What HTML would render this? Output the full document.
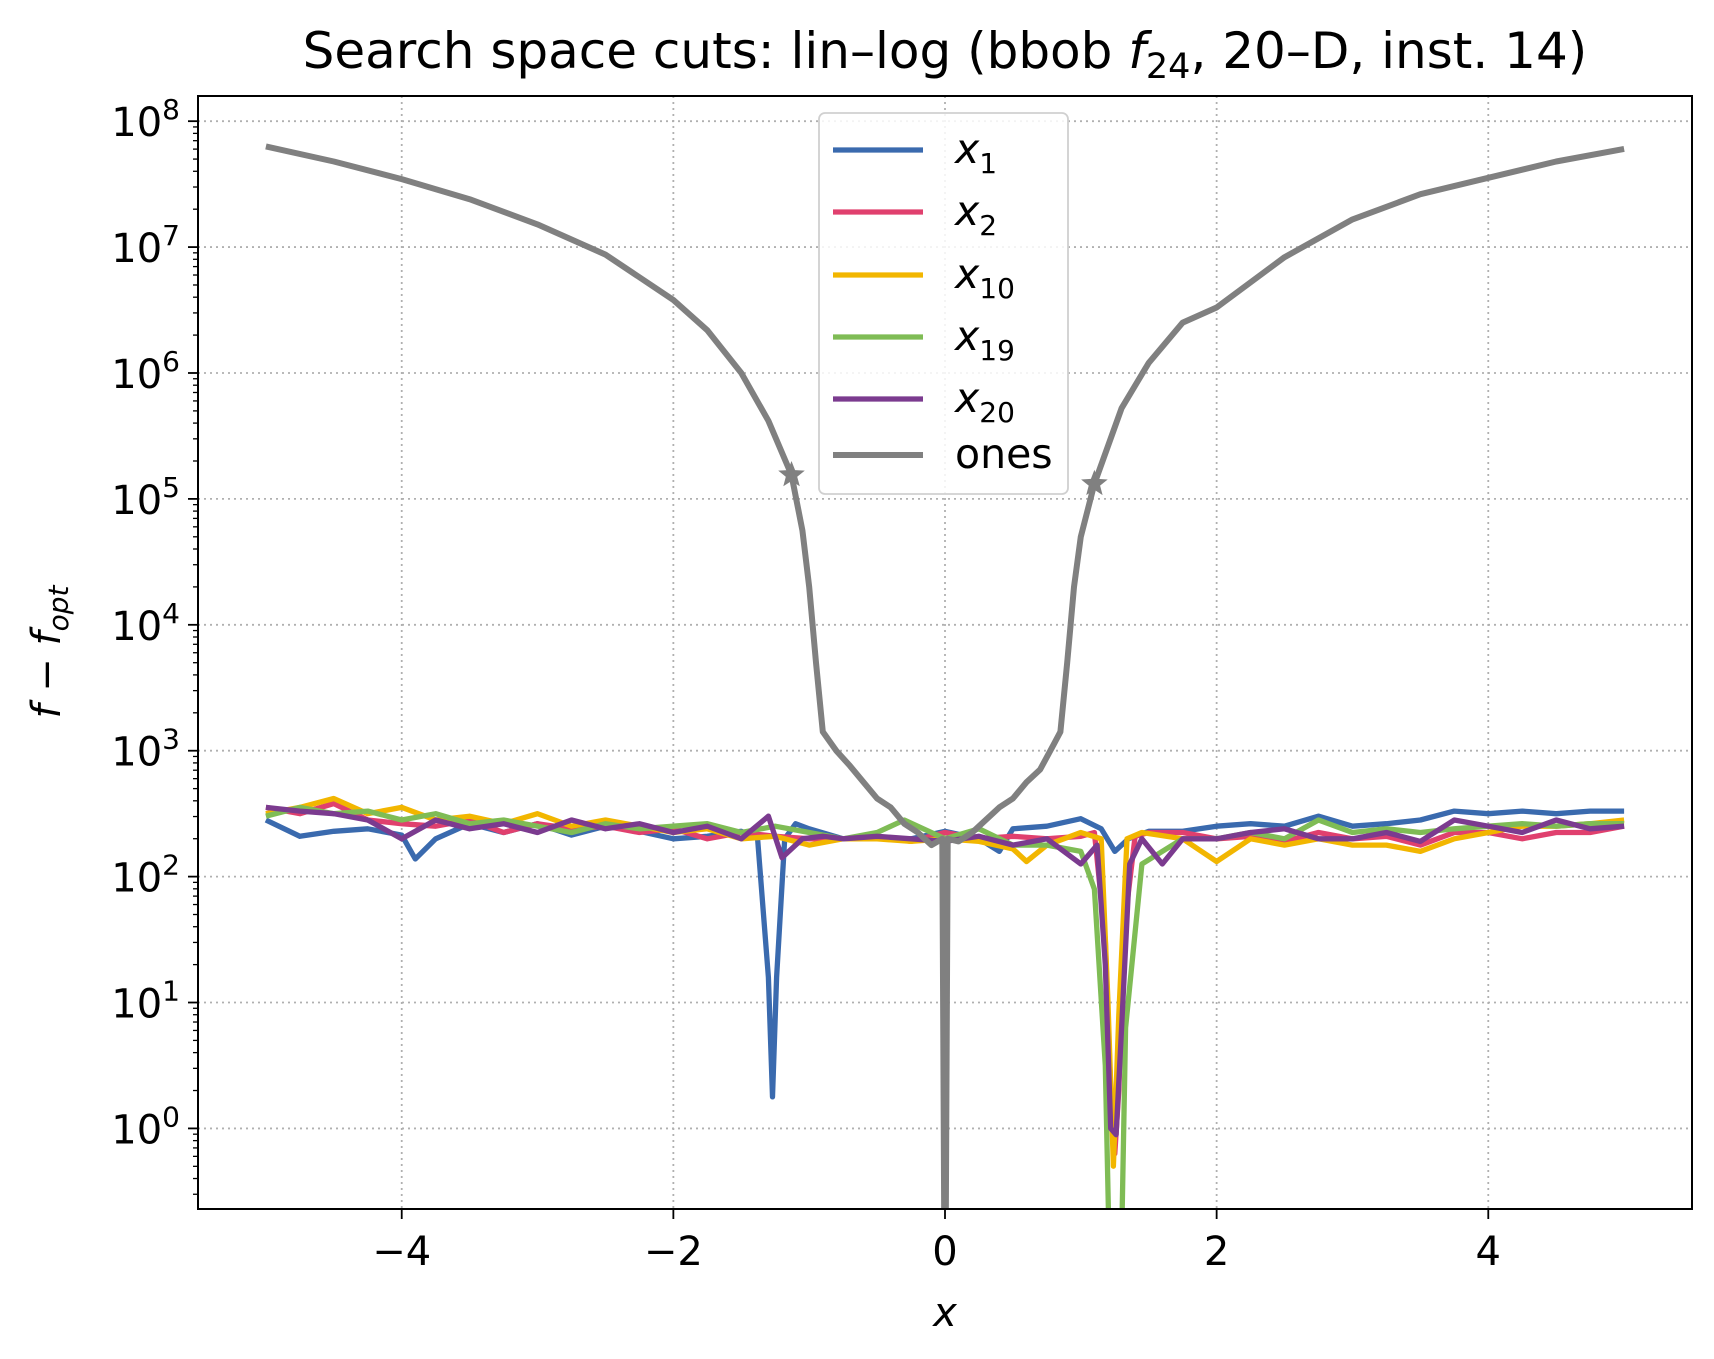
<!DOCTYPE html>
<html><head><meta charset="utf-8">
<style>
html,body{margin:0;padding:0;background:#fff;}
svg{display:block;font-family:"DejaVu Sans","Liberation Sans",sans-serif;}
</style></head>
<body>
<svg id="chart" width="1714" height="1359" viewBox="0 0 1714 1359">
<rect x="0" y="0" width="1714" height="1359" fill="#fff"/>
<defs><clipPath id="plotclip"><rect x="198" y="96" width="1494" height="1113"/></clipPath></defs>
<g id="grid"></g>
<g id="series" clip-path="url(#plotclip)"></g>
<rect x="198" y="96" width="1494" height="1113" fill="none" stroke="#000" stroke-width="2"/>
<g id="axes"></g>
<text x="945" y="68" font-size="50" text-anchor="middle">Search space cuts: lin–log (bbob <tspan font-style="italic">f</tspan><tspan font-size="35" dy="10">24</tspan><tspan dy="-10">, 20–D, inst. 14)</tspan></text>
<text x="945" y="1326" font-size="40" font-style="italic" text-anchor="middle">x</text>
<text transform="translate(60,652) rotate(-90)" font-size="40" text-anchor="middle"><tspan font-style="italic">f</tspan> − <tspan font-style="italic">f</tspan><tspan font-size="28" dy="8" font-style="italic">opt</tspan></text>
<g id="legend"></g>
</svg>
<script>
const NS="http://www.w3.org/2000/svg";
const xTicks=[-4,-2,0,2,4];
const yTicks=[0,1,2,3,4,5,6,7,8];
const seriesNames=["x1","x2","x10","x19","x20","ones"];
const seriesColors=["#3a6aae","#e0406e","#f2b600","#7fbc55","#7b3b8f","#808080"];
const x1X=[-5,-4.75,-4.5,-4.25,-4,-3.9,-3.75,-3.5,-3.25,-3,-2.75,-2.5,-2.25,-2,-1.75,-1.5,-1.38,-1.3,-1.27,-1.24,-1.18,-1.1,-1,-0.75,-0.5,-0.25,0,0.25,0.4,0.5,0.75,1,1.15,1.25,1.35,1.5,1.75,2,2.25,2.5,2.75,3,3.25,3.5,3.75,4,4.25,4.5,4.75,5];
const x1Y=[2.45,2.32,2.36,2.38,2.33,2.14,2.3,2.42,2.35,2.42,2.33,2.4,2.36,2.3,2.32,2.36,2.3,1.2,0.25,1.2,2.3,2.42,2.38,2.3,2.3,2.3,2.36,2.3,2.2,2.38,2.4,2.46,2.38,2.2,2.3,2.36,2.36,2.4,2.42,2.4,2.48,2.4,2.42,2.45,2.52,2.5,2.52,2.5,2.52,2.52];
const x2X=[-5,-4.75,-4.5,-4.25,-4,-3.75,-3.5,-3.25,-3,-2.75,-2.5,-2.25,-2,-1.75,-1.5,-1.25,-1,-0.75,-0.5,-0.25,0,0.25,0.5,0.75,1,1.1,1.18,1.22,1.25,1.28,1.32,1.4,1.5,1.75,2,2.25,2.5,2.75,3,3.25,3.5,3.75,4,4.25,4.5,4.75,5];
const x2Y=[2.55,2.5,2.58,2.45,2.42,2.4,2.45,2.35,2.42,2.38,2.4,2.35,2.38,2.3,2.35,2.32,2.3,2.3,2.32,2.28,2.35,2.3,2.32,2.3,2.32,2.35,1.5,0.3,-0.2,0.3,1.6,2.32,2.35,2.35,2.3,2.32,2.28,2.35,2.3,2.32,2.25,2.35,2.35,2.3,2.35,2.35,2.4];
const x10X=[-5,-4.75,-4.5,-4.25,-4,-3.75,-3.5,-3.25,-3,-2.75,-2.5,-2.25,-2,-1.75,-1.5,-1.25,-1,-0.75,-0.5,-0.25,0,0.25,0.5,0.6,0.75,1,1.15,1.2,1.24,1.28,1.34,1.45,1.75,2,2.25,2.5,2.75,3,3.25,3.5,3.75,4,4.25,4.5,4.75,5];
const x10Y=[2.5,2.55,2.62,2.5,2.55,2.45,2.48,2.42,2.5,2.4,2.45,2.4,2.35,2.38,2.3,2.32,2.25,2.3,2.3,2.28,2.3,2.28,2.22,2.12,2.25,2.35,2.3,1.0,-0.3,0.9,2.3,2.35,2.3,2.12,2.3,2.25,2.3,2.25,2.25,2.2,2.3,2.35,2.4,2.4,2.42,2.45];
const x19X=[-5,-4.75,-4.5,-4.25,-4,-3.75,-3.5,-3.25,-3,-2.75,-2.5,-2.25,-2,-1.75,-1.5,-1.25,-1,-0.75,-0.5,-0.3,0,0.25,0.5,0.75,1,1.1,1.18,1.22,1.25,1.29,1.33,1.45,1.75,2,2.25,2.5,2.75,3,3.25,3.5,3.75,4,4.25,4.5,4.75,5];
const x19Y=[2.48,2.55,2.5,2.52,2.45,2.5,2.42,2.45,2.4,2.35,2.42,2.38,2.4,2.42,2.35,2.4,2.35,2.3,2.35,2.45,2.3,2.38,2.25,2.25,2.2,1.9,0.5,-1.5,-1.5,-1.5,0.8,2.1,2.3,2.3,2.35,2.3,2.45,2.35,2.38,2.35,2.38,2.4,2.42,2.4,2.42,2.42];
const x20X=[-5,-4.75,-4.5,-4.25,-4,-3.75,-3.5,-3.25,-3,-2.75,-2.5,-2.25,-2,-1.75,-1.5,-1.3,-1.2,-1.05,-0.9,-0.75,-0.5,-0.25,0,0.25,0.5,0.75,1,1.12,1.18,1.22,1.26,1.3,1.36,1.45,1.6,1.75,2,2.25,2.5,2.75,3,3.25,3.5,3.75,4,4.25,4.5,4.75,5];
const x20Y=[2.55,2.52,2.5,2.45,2.3,2.45,2.38,2.42,2.35,2.45,2.38,2.42,2.35,2.4,2.3,2.48,2.15,2.3,2.32,2.3,2.32,2.3,2.28,2.32,2.25,2.3,2.1,2.25,1.3,0,-0.05,0.8,2.1,2.3,2.1,2.3,2.3,2.35,2.38,2.3,2.3,2.35,2.28,2.45,2.4,2.35,2.45,2.38,2.4];
const onesX=[-5,-4.5,-4,-3.5,-3,-2.5,-2,-1.75,-1.5,-1.3,-1.13,-1.05,-1.0,-0.95,-0.9,-0.8,-0.7,-0.6,-0.5,-0.4,-0.3,-0.2,-0.1,-0.02,0,0.02,0.1,0.2,0.3,0.4,0.5,0.6,0.7,0.8,0.85,0.9,0.95,1.0,1.1,1.3,1.5,1.75,2,2.5,3,3.5,4,4.5,5];
const onesY=[7.8,7.68,7.54,7.38,7.18,6.94,6.58,6.34,6.0,5.62,5.19,4.75,4.3,3.7,3.15,3.0,2.88,2.75,2.62,2.55,2.42,2.35,2.25,2.3,-2,2.3,2.28,2.35,2.45,2.55,2.62,2.75,2.85,3.05,3.15,3.7,4.3,4.7,5.12,5.72,6.08,6.4,6.52,6.92,7.22,7.42,7.55,7.68,7.78];
const starX=[-1.13,1.1];
const starY=[5.19,5.12];

const L=198,R=1692,T=96,B=1209;
const xmin=-5.5,xmax=5.5,ymin=-0.64,ymax=8.2;
const sx=v=>L+(v-xmin)/(xmax-xmin)*(R-L);
const sy=v=>B-(v-ymin)/(ymax-ymin)*(B-T);
function mk(tag,attrs,parent){const e=document.createElementNS(NS,tag);for(const k in attrs)e.setAttribute(k,attrs[k]);parent.appendChild(e);return e;}
const grid=document.getElementById('grid'),axes=document.getElementById('axes'),ser=document.getElementById('series'),leg=document.getElementById('legend');
xTicks.forEach(t=>{
  const g=mk('line',{x1:sx(t),x2:sx(t),y1:T,y2:B,stroke:'#b0b0b0','stroke-width':1.8,'stroke-dasharray':'2,4'},grid);
  
  
  const tk=mk('line',{x1:sx(t),x2:sx(t),y1:B,y2:B+10,stroke:'#000','stroke-width':1.8},axes);
  
  
  const lb=mk('text',{x:sx(t),y:B+56,'font-size':40,'text-anchor':'middle'},axes);
  lb.textContent=(t<0?'−':'')+Math.abs(t);
  
  
});
yTicks.forEach(t=>{
  const y=sy(t);
  const g=mk('line',{x1:L,x2:R,y1:y,y2:y,stroke:'#b0b0b0','stroke-width':1.8,'stroke-dasharray':'2,4'},grid);
  
  
  const tk=mk('line',{x1:L-10,x2:L,y1:y,y2:y,stroke:'#000','stroke-width':1.8},axes);
  
  
  const lb=mk('text',{x:L-18,y:y+15,'font-size':40,'text-anchor':'end'},axes);
  lb.innerHTML='10<tspan dy="-17" font-size="28">'+t+'</tspan>';
  
  
});
for(let d=-1;d<=8;d++){for(let m=2;m<=9;m++){const v=d+Math.log10(m);if(v<ymin||v>ymax)continue;
  const tk=mk('line',{x1:L-5,x2:L,y1:sy(v),y2:sy(v),stroke:'#000','stroke-width':1.3},axes);
  
  }}
const allX=[x1X,x2X,x10X,x19X,x20X,onesX],allY=[x1Y,x2Y,x10Y,x19Y,x20Y,onesY];
allX.forEach((xs,i)=>{
  const d=xs.map((x,j)=>(j?'L':'M')+sx(x).toFixed(1)+','+sy(allY[i][j]).toFixed(1)).join(' ');
  const p=mk('path',{d:d,fill:'none',stroke:seriesColors[i],'stroke-width':i==5?6:5.3,'stroke-linejoin':'round'},ser);
  
  
});
starX.forEach((x,i)=>{
  const cx=sx(x),cy=sy(starY[i]);let pts=[];
  for(let k=0;k<10;k++){const r=k%2?6:14,a=-Math.PI/2+k*Math.PI/5;pts.push((cx+r*Math.cos(a)).toFixed(1)+','+(cy+r*Math.sin(a)).toFixed(1));}
  const s=mk('polygon',{points:pts.join(' '),fill:'#808080'},ser);
  
  
});
const box=mk('rect',{x:819,y:113,width:249,height:381,rx:6,fill:'#fff','fill-opacity':0.85,stroke:'#d0d0d0','stroke-width':1.8},leg);


const legY=[150,212,275,337,399,455];
const legLab=[['x','1'],['x','2'],['x','10'],['x','19'],['x','20'],['ones','']];
seriesNames.forEach((n,i)=>{
  const ln=mk('line',{x1:833,x2:923,y1:legY[i],y2:legY[i],stroke:seriesColors[i],'stroke-width':i==5?6:5.3},leg);
  
  
  const t=mk('text',{x:955,y:legY[i]+13,'font-size':41},leg);
  if(i<5)t.innerHTML='<tspan font-style="italic">x</tspan><tspan font-size="28" dy="10">'+legLab[i][1]+'</tspan>';
  else t.textContent='ones';
  
  
});
</script>
</body></html>
